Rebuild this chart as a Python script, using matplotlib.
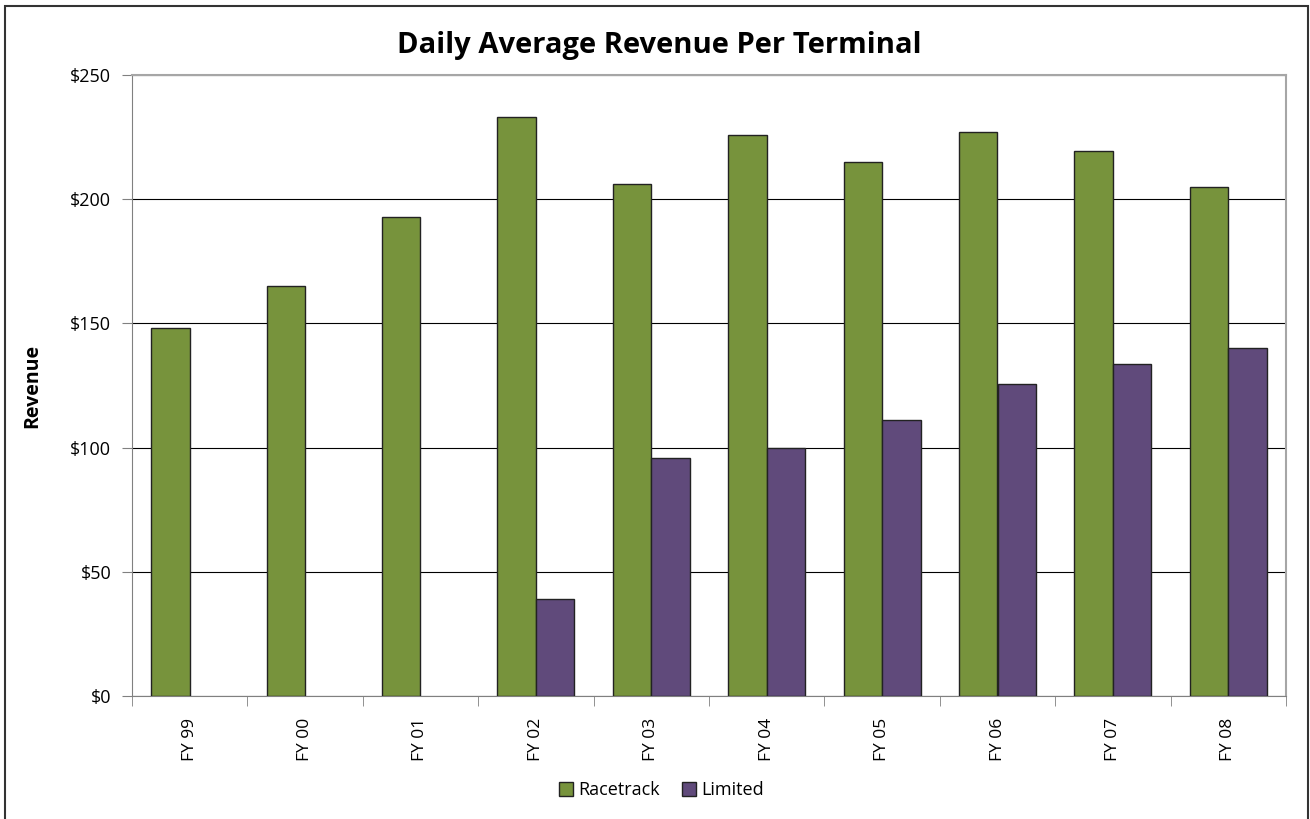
import numpy as np
import matplotlib.pyplot as plt
from matplotlib.patches import Rectangle, Patch

plt.rcParams['font.family'] = ['Open Sans', 'DejaVu Sans']

# donnees
years = ["FY 99", "FY 00", "FY 01", "FY 02", "FY 03", "FY 04", "FY 05", "FY 06", "FY 07", "FY 08"]
racetrack = [148, 165, 193, 233, 206, 226, 215, 227, 219.5, 205]
limited = [0, 0, 0, 39, 96, 100, 111, 125.5, 133.5, 140]
yticks = [0, 50, 100, 150, 200, 250]

green = "#77933C"
purple = "#604A7B"

fig = plt.figure(figsize=(13.1, 8.19), dpi=100)
ax = fig.add_axes([132/1310, 1 - 696/819, (1286 - 132)/1310, (696 - 75)/819])

x = np.arange(len(years))
w = 1/3
ax.bar(x - w/2, racetrack, width=w, color=green, edgecolor="#222222", linewidth=1, zorder=3)
# pas de barre pour les annees sans valeur
lim = np.array(limited, dtype=float)
mask = lim > 0
ax.bar(x[mask] + w/2, lim[mask], width=w, color=purple, edgecolor="#222222", linewidth=1, zorder=3)

ax.set_xlim(-0.5, len(years) - 0.5)
ax.set_ylim(0, 250)
ax.set_yticks(yticks)
ax.set_yticklabels(["$%d" % v for v in yticks], fontsize=13)
ax.yaxis.grid(True, color="black", linewidth=0.8, zorder=0)
ax.set_xticks(x)
ax.set_xticklabels(years, rotation=90, fontsize=12.5)
ax.tick_params(axis="x", length=0, pad=16)
ax.set_xticks(np.arange(len(years) + 1) - 0.5, minor=True)
ax.tick_params(axis="x", which="minor", length=7, color="#808080")
ax.tick_params(axis="y", length=7, color="#808080", pad=8)

for side in ["top", "right"]:
    ax.spines[side].set_color("#a6a6a6")
    ax.spines[side].set_linewidth(1.5)
ax.spines["left"].set_color("#808080")
ax.spines["bottom"].set_color("#808080")

ax.set_ylabel("Revenue", fontsize=14, fontweight="bold", labelpad=20)
fig.text(0.503, 1 - 46/819, "Daily Average Revenue Per Terminal", ha="center", va="center",
         fontsize=21, fontweight="bold")

handles = [Patch(facecolor=green, edgecolor="#222222"), Patch(facecolor=purple, edgecolor="#222222")]
fig.legend(handles, ["Racetrack", "Limited"], loc="center", bbox_to_anchor=(0.505, 1 - 790/819),
           ncol=2, frameon=False, fontsize=13, handlelength=0.8, handleheight=0.8,
           handletextpad=0.3, columnspacing=1.2)

# cadre autour de la figure
fig.patches.append(Rectangle((5/1310, -0.01), (1308 - 5)/1310, 1 - 6/819 + 0.01,
                             transform=fig.transFigure, fill=False, edgecolor="#333333", linewidth=1.5))

fig.savefig("out.png", dpi=100)
